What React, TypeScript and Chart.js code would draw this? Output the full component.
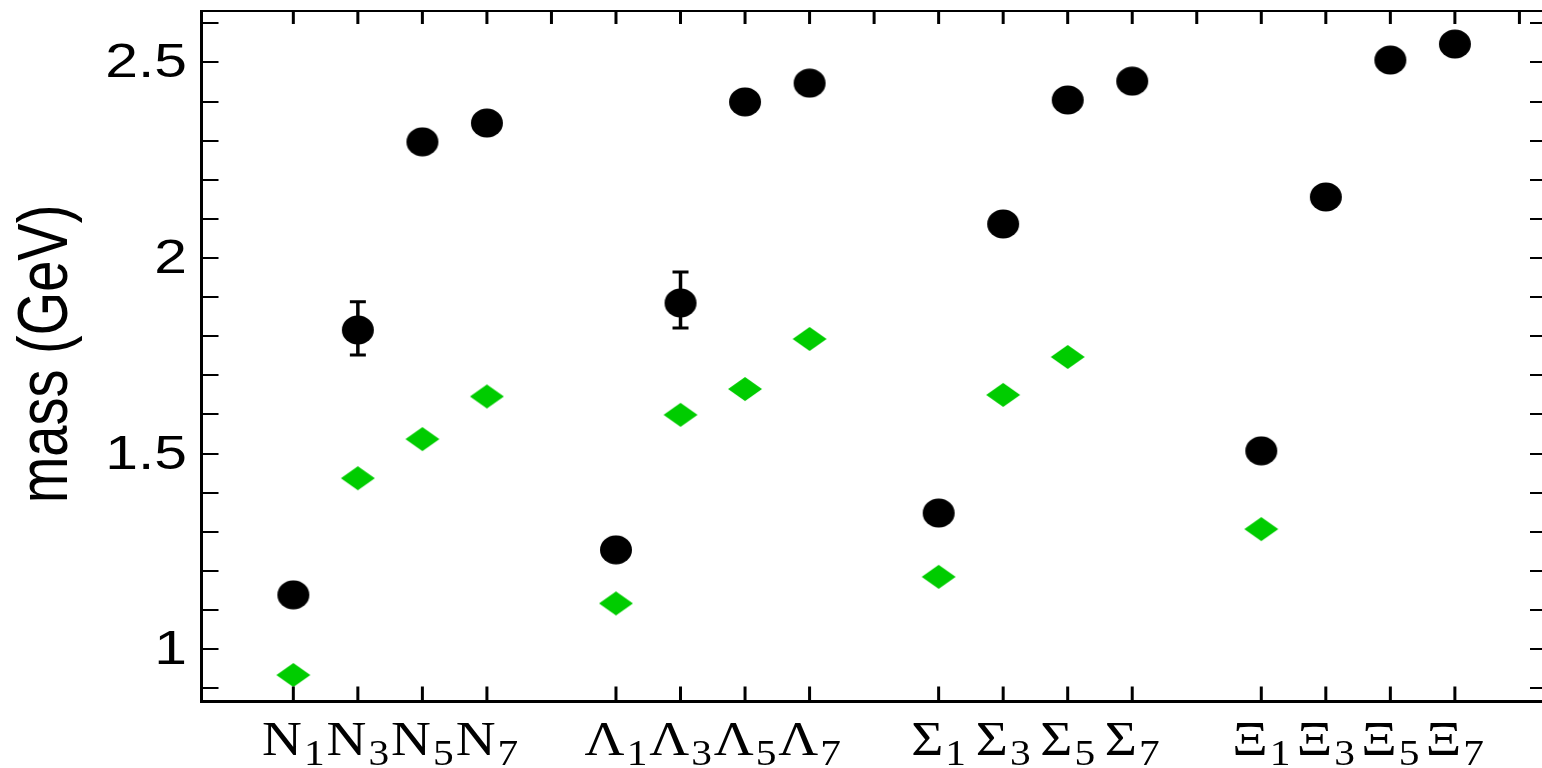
import React, { useEffect, useRef } from "react";
import { Chart, registerables } from "chart.js";

Chart.register(...registerables);

// ---- data ----
const labelBase = ["N", "N", "N", "N", "Λ", "Λ", "Λ", "Λ", "Σ", "Σ", "Σ", "Σ", "Ξ", "Ξ", "Ξ", "Ξ"];
const labelSub = ["1", "3", "5", "7", "1", "3", "5", "7", "1", "3", "5", "7", "1", "3", "5", "7"];
const xPositions = [1, 2, 3, 4, 6, 7, 8, 9, 11, 12, 13, 14, 16, 17, 18, 19];
const massBlack = [1.139, 1.816, 2.297, 2.345, 1.254, 1.885, 2.399, 2.447, 1.348, 2.087, 2.404, 2.452, 1.507, 2.156, 2.506, 2.547];
const massGreen: (number | null)[] = [0.934, 1.437, 1.537, 1.646, 1.117, 1.599, 1.665, 1.793, 1.185, 1.65, 1.747, null, 1.307, null, null, null];
const errLow: (number | null)[] = [null, 1.752, null, null, null, 1.821, null, null, null, null, null, null, null, null, null, null];
const errHigh: (number | null)[] = [null, 1.888, null, null, null, 1.964, null, null, null, null, null, null, null, null, null, null];
const yTickLabels = [1, 1.5, 2, 2.5];
const yMinorTicks = [0.9, 1.0, 1.1, 1.2, 1.3, 1.4, 1.5, 1.6, 1.7, 1.8, 1.9, 2.0, 2.1, 2.2, 2.3, 2.4, 2.5, 2.6];
const xTopTicks = [1, 2, 3, 4, 5, 6, 7, 8, 9, 10, 11, 12, 13, 14, 15, 16, 17, 18, 19, 20];
const yTitle = "mass (GeV)";

const Y_MIN = 0.8663;
const Y_MAX = 2.6314;
const X_MIN = -0.423;
const X_MAX = 20.35;

function makeCircle(): HTMLCanvasElement {
  const c = document.createElement("canvas");
  c.width = 34;
  c.height = 30;
  const g = c.getContext("2d")!;
  g.fillStyle = "#000";
  g.beginPath();
  g.ellipse(17, 15, 16, 14.5, 0, 0, Math.PI * 2);
  g.fill();
  return c;
}

function makeDiamond(): HTMLCanvasElement {
  const c = document.createElement("canvas");
  c.width = 36;
  c.height = 26;
  const g = c.getContext("2d")!;
  g.fillStyle = "#00cc00";
  g.beginPath();
  g.moveTo(18, 1);
  g.lineTo(35, 13);
  g.lineTo(18, 25);
  g.lineTo(1, 13);
  g.closePath();
  g.fill();
  return c;
}

const framePlugin = {
  id: "frame",
  beforeDatasetsDraw(chart: any) {
    const ctx = chart.ctx;
    const xs = chart.scales.x;
    const ys = chart.scales.y;
    ctx.save();
    ctx.strokeStyle = "#000";
    for (let i = 0; i < xPositions.length; i++) {
      const lo = errLow[i];
      const hi = errHigh[i];
      if (lo == null || hi == null) continue;
      const x = xs.getPixelForValue(xPositions[i]);
      const y1 = ys.getPixelForValue(hi);
      const y2 = ys.getPixelForValue(lo);
      ctx.lineWidth = 3.5;
      ctx.beginPath();
      ctx.moveTo(x, y1);
      ctx.lineTo(x, y2);
      ctx.stroke();
      ctx.lineWidth = 3;
      ctx.beginPath();
      ctx.moveTo(x - 8, y1);
      ctx.lineTo(x + 8, y1);
      ctx.moveTo(x - 8, y2);
      ctx.lineTo(x + 8, y2);
      ctx.stroke();
    }
    ctx.restore();
  },
  afterDraw(chart: any) {
    const ctx = chart.ctx;
    const { left, right, top, bottom } = chart.chartArea;
    const xs = chart.scales.x;
    const ys = chart.scales.y;
    ctx.save();
    ctx.strokeStyle = "#000";
    ctx.fillStyle = "#000";

    // top frame line
    ctx.lineWidth = 2;
    ctx.beginPath();
    ctx.moveTo(left, top);
    ctx.lineTo(right, top);
    ctx.stroke();

    // left axis
    ctx.lineWidth = 3;
    ctx.beginPath();
    ctx.moveTo(left, top - 1);
    ctx.lineTo(left, bottom + 1.5);
    ctx.stroke();

    // bottom axis
    ctx.beginPath();
    ctx.moveTo(left - 1.5, bottom);
    ctx.lineTo(right, bottom);
    ctx.stroke();

    // y ticks (left and right)
    ctx.lineWidth = 2;
    for (const v of yMinorTicks) {
      const y = Math.round(ys.getPixelForValue(v));
      ctx.beginPath();
      ctx.moveTo(left, y);
      ctx.lineTo(left + 17, y);
      ctx.moveTo(right - 12, y);
      ctx.lineTo(right, y);
      ctx.stroke();
    }

    // x ticks bottom
    ctx.lineWidth = 3;
    for (const p of xPositions) {
      const x = xs.getPixelForValue(p);
      ctx.beginPath();
      ctx.moveTo(x, bottom);
      ctx.lineTo(x, bottom - 15);
      ctx.stroke();
    }
    // x ticks top
    for (const p of xTopTicks) {
      const x = xs.getPixelForValue(p);
      if (x > right) continue;
      ctx.beginPath();
      ctx.moveTo(x, top);
      ctx.lineTo(x, top + 13);
      ctx.stroke();
    }

    // y tick labels
    ctx.font = '49px "Liberation Sans", Arial, sans-serif';
    ctx.textAlign = "right";
    ctx.textBaseline = "alphabetic";
    for (const v of yTickLabels) {
      const y = ys.getPixelForValue(v);
      ctx.save();
      ctx.translate(187, y + 15);
      ctx.scale(1.2, 1);
      ctx.fillText(String(v), 0, 0);
      ctx.restore();
    }

    // y title
    ctx.save();
    ctx.font = '56px "Liberation Sans", Arial, sans-serif';
    ctx.textAlign = "center";
    ctx.textBaseline = "alphabetic";
    ctx.translate(67, 354);
    ctx.scale(1.25, 1);
    ctx.rotate(-Math.PI / 2);
    ctx.fillText(yTitle, 0, 0);
    ctx.restore();

    // x category labels with subscripts
    const sx = 1.15;
    const mainFont = '48px "Liberation Serif", "Times New Roman", serif';
    const subFont = '36px "Liberation Serif", "Times New Roman", serif';
    for (let i = 0; i < xPositions.length; i++) {
      const cx = xs.getPixelForValue(xPositions[i]);
      ctx.font = mainFont;
      const w1 = ctx.measureText(labelBase[i]).width;
      ctx.font = subFont;
      const w2 = ctx.measureText(labelSub[i]).width;
      const gap = 2;
      const total = (w1 + w2) * sx + gap;
      const x0 = cx - total / 2;
      ctx.textAlign = "left";
      ctx.save();
      ctx.translate(x0, 755);
      ctx.scale(sx, 1);
      ctx.font = mainFont;
      ctx.fillText(labelBase[i], 0, 0);
      ctx.restore();
      ctx.save();
      ctx.translate(x0 + w1 * sx + gap, 765);
      ctx.scale(sx, 1);
      ctx.font = subFont;
      ctx.fillText(labelSub[i], 0, 0);
      ctx.restore();
    }

    ctx.restore();
  },
};

export default function App() {
  const ref = useRef<HTMLCanvasElement | null>(null);

  useEffect(() => {
    document.body.style.margin = "0";
    const canvas = ref.current;
    if (!canvas) return;
    const blackPts = xPositions.map((x, i) => ({ x, y: massBlack[i] }));
    const greenPts = xPositions
      .map((x, i) => ({ x, y: massGreen[i] }))
      .filter((p) => p.y != null) as { x: number; y: number }[];

    const chart = new Chart(canvas, {
      type: "scatter",
      data: {
        datasets: [
          {
            label: "green",
            data: greenPts,
            pointStyle: makeDiamond() as any,
            pointRadius: 13,
            backgroundColor: "#00cc00",
            borderWidth: 0,
          },
          {
            label: "black",
            data: blackPts,
            pointStyle: makeCircle() as any,
            pointRadius: 15,
            backgroundColor: "#000",
            borderWidth: 0,
          },
        ],
      },
      options: {
        responsive: false,
        animation: false,
        devicePixelRatio: 1,
        events: [],
        layout: { autoPadding: false, padding: { left: 201.5, right: 0, top: 11, bottom: 66.5 } },
        plugins: {
          legend: { display: false },
          tooltip: { enabled: false },
        },
        scales: {
          x: { type: "linear", min: X_MIN, max: X_MAX, display: false },
          y: { type: "linear", min: Y_MIN, max: Y_MAX, display: false },
        },
      },
      plugins: [framePlugin],
    });
    return () => chart.destroy();
  }, []);

  return (
    <div style={{ width: 1542, height: 768, background: "#fff" }}>
      <canvas ref={ref} width={1542} height={768} style={{ display: "block" }} />
    </div>
  );
}
